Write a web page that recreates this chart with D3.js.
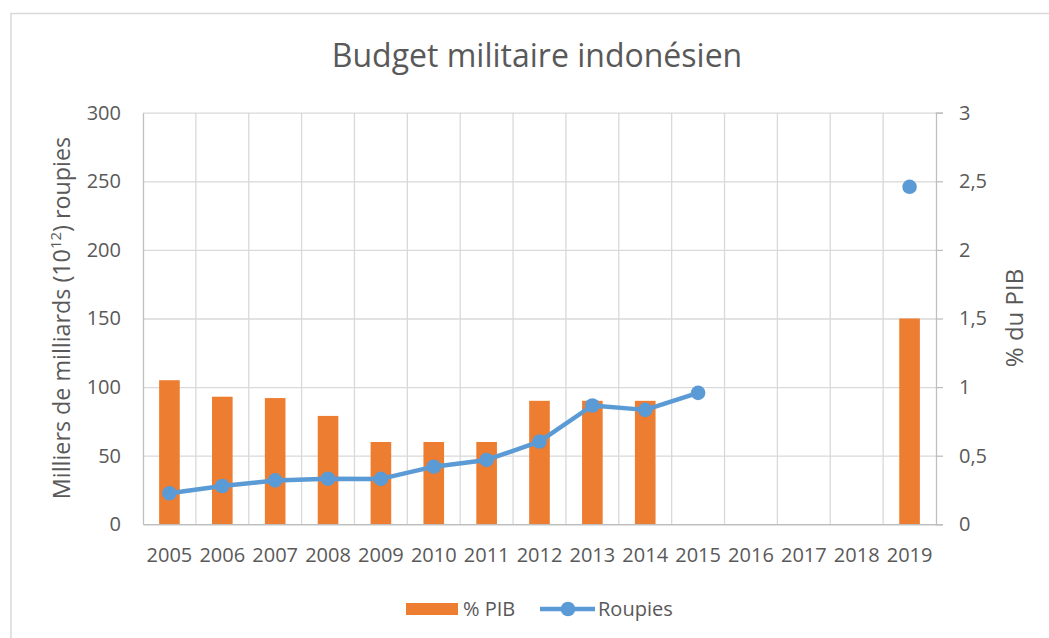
<!DOCTYPE html>
<html>
<head>
<meta charset="utf-8">
<script src="https://cdn.jsdelivr.net/npm/d3@7"></script>
<style>
  body { margin: 0; background: #fff; }
  svg text { font-family: "Open Sans", sans-serif; fill: #595959; }
</style>
</head>
<body>
<div id="chart"></div>
<script>
// ── Data ───────────────────────────────────────────────
const years    = ["2005","2006","2007","2008","2009","2010","2011","2012","2013","2014","2015","2016","2017","2018","2019"];
const pctPib   = [1.05, 0.93, 0.92, 0.79, 0.6, 0.6, 0.6, 0.9, 0.9, 0.9, null, null, null, null, 1.5];
const roupies  = [22.6, 27.9, 32.0, 33.2, 33.1, 42.0, 46.9, 60.3, 86.6, 83.4, 95.8, null, null, null, 246];
const leftTicks  = [0, 50, 100, 150, 200, 250, 300];
const rightTicks = [0, 0.5, 1, 1.5, 2, 2.5, 3];

const W = 1049, H = 638;
const PLOT = { left: 143, right: 936, top: 112.7, bottom: 524.3 };
const ORANGE = "#ED7D31", BLUE = "#5B9BD5", GRID = "#D9D9D9", AXIS = "#BFBFBF";

const svg = d3.select("#chart").append("svg").attr("width", W).attr("height", H);

// chart border (only top + left visible)
svg.append("path").attr("d", `M11,${H} V13.5 H${W}`)
  .attr("fill","none").attr("stroke","#D9D9D9").attr("stroke-width",1.5);

const x  = d3.scaleBand().domain(years).range([PLOT.left, PLOT.right]).padding(0);
const yL = d3.scaleLinear().domain([0, 300]).range([PLOT.bottom, PLOT.top]);
const yR = d3.scaleLinear().domain([0, 3]).range([PLOT.bottom, PLOT.top]);

// horizontal grid
svg.append("g")
  .attr("transform", `translate(${PLOT.left},0)`)
  .call(d3.axisLeft(yL).tickValues(leftTicks.slice(1)).tickSize(-(PLOT.right-PLOT.left)).tickFormat(""))
  .call(ax => ax.select(".domain").remove())
  .call(ax => ax.selectAll("line").attr("stroke",GRID).attr("stroke-width",1.3));

// vertical grid at category boundaries
svg.append("g").selectAll("line").data(years.slice(1)).join("line")
  .attr("x1", d => x(d)).attr("x2", d => x(d))
  .attr("y1", PLOT.top).attr("y2", PLOT.bottom)
  .attr("stroke", GRID).attr("stroke-width", 1.3);

// left axis
svg.append("g")
  .attr("transform", `translate(${PLOT.left},0)`)
  .call(d3.axisLeft(yL).tickValues(leftTicks).tickSize(0).tickPadding(22))
  .call(ax => ax.select(".domain").attr("stroke",AXIS).attr("stroke-width",1.3))
  .call(ax => ax.selectAll("text").attr("font-size",20).attr("fill","#595959"));

// right axis
svg.append("g")
  .attr("transform", `translate(${PLOT.right},0)`)
  .call(d3.axisRight(yR).tickValues(rightTicks).tickSize(7).tickPadding(16)
    .tickFormat(d => String(d).replace(".", ",")))
  .call(ax => ax.select(".domain").attr("stroke",AXIS).attr("stroke-width",1.3))
  .call(ax => ax.selectAll("line").attr("stroke",AXIS).attr("stroke-width",1.3))
  .call(ax => ax.selectAll("text").attr("font-size",20).attr("fill","#595959"));

// bars (% PIB, right axis)
const barW = x.bandwidth() * 0.39;
svg.append("g").selectAll("rect")
  .data(years.map((yr, i) => ({ yr, v: pctPib[i] })).filter(d => d.v != null))
  .join("rect")
  .attr("x", d => x(d.yr) + x.bandwidth()/2 - barW/2)
  .attr("y", d => yR(d.v))
  .attr("width", barW)
  .attr("height", d => yR(0) - yR(d.v))
  .attr("fill", ORANGE);

// bottom axis
svg.append("g")
  .attr("transform", `translate(0,${PLOT.bottom})`)
  .call(d3.axisBottom(x).tickSize(0).tickPadding(24))
  .call(ax => ax.select(".domain").attr("stroke",AXIS).attr("stroke-width",1.5))
  .call(ax => ax.selectAll("text").attr("font-size",20).attr("fill","#595959"));

// line (Roupies, left axis)
const pts = years.map((yr, i) => ({ yr, v: roupies[i] }));
svg.append("path").datum(pts)
  .attr("d", d3.line().defined(d => d.v != null)
    .x(d => x(d.yr) + x.bandwidth()/2).y(d => yL(d.v)))
  .attr("fill","none").attr("stroke",BLUE).attr("stroke-width",4.5).attr("stroke-linejoin","round");

svg.append("g").selectAll("circle").data(pts.filter(d => d.v != null)).join("circle")
  .attr("cx", d => x(d.yr) + x.bandwidth()/2)
  .attr("cy", d => yL(d.v))
  .attr("r", 7.3)
  .attr("fill", BLUE);

// title
svg.append("text").attr("x", 537).attr("y", 67).attr("text-anchor","middle")
  .attr("font-size", 32).text("Budget militaire indonésien");

// axis titles
const lt = svg.append("text")
  .attr("transform", `translate(70,318) rotate(-90)`)
  .attr("text-anchor","middle").attr("font-size", 23.3);
lt.append("tspan").text("Milliers de milliards (10");
lt.append("tspan").attr("font-size", 15).attr("dy", -9).text("12");
lt.append("tspan").attr("dy", 9).text(") roupies");

svg.append("text")
  .attr("transform", `translate(1023,318) rotate(-90)`)
  .attr("text-anchor","middle").attr("font-size", 24).text("% du PIB");

// legend
const lg = svg.append("g");
lg.append("rect").attr("x", 406).attr("y", 603).attr("width", 52).attr("height", 12).attr("fill", ORANGE);
lg.append("text").attr("x", 463).attr("y", 616).attr("font-size", 20).text("% PIB");
lg.append("line").attr("x1", 540).attr("x2", 595).attr("y1", 609).attr("y2", 609)
  .attr("stroke", BLUE).attr("stroke-width", 4.5);
lg.append("circle").attr("cx", 568).attr("cy", 609).attr("r", 7.3).attr("fill", BLUE);
lg.append("text").attr("x", 598).attr("y", 616).attr("font-size", 20).text("Roupies");
</script>
</body>
</html>
